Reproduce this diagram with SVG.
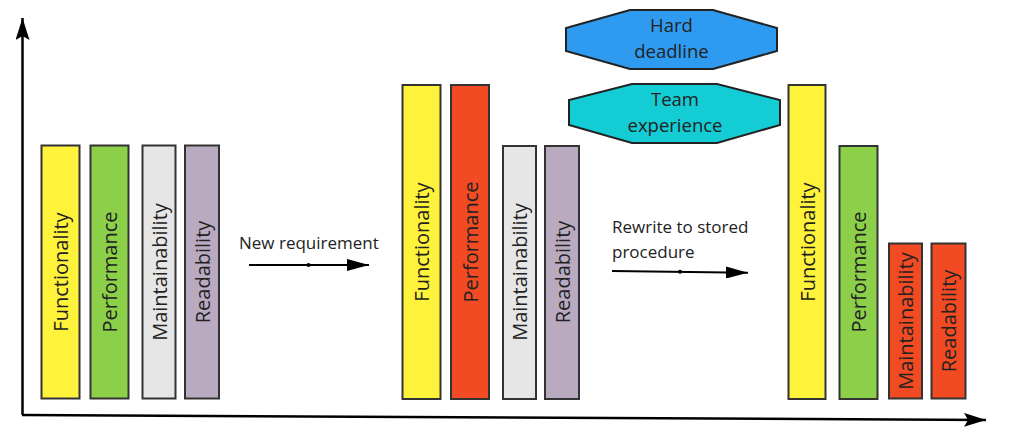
<svg xmlns="http://www.w3.org/2000/svg" width="1024" height="444" viewBox="0 0 1024 444">
<defs>
<marker id="ah" markerWidth="22" markerHeight="14" refX="22" refY="7" orient="auto" markerUnits="userSpaceOnUse"><path d="M0,0 L22,7 L0,14 L4,7 Z" fill="#000"/></marker>
<marker id="ahs" markerWidth="22" markerHeight="12" refX="22" refY="6" orient="auto" markerUnits="userSpaceOnUse"><path d="M0,0 L22,6 L0,12 Z" fill="#000"/></marker>
</defs>
<style>
.bar{stroke:#333;stroke-width:2}
.lbl{font-family:"Open Sans","DejaVu Sans",sans-serif;font-size:20px;fill:#222;text-anchor:middle;dominant-baseline:central}
.txt{font-family:"Open Sans","DejaVu Sans",sans-serif;font-size:17px;fill:#222}
.hx{stroke:#222;stroke-width:2}
.ht{font-family:"Open Sans","DejaVu Sans",sans-serif;font-size:18.5px;fill:#222;text-anchor:middle}
.ax{stroke:#000;stroke-width:2.5;fill:none}
.ar{stroke:#000;stroke-width:2;fill:none}
.yellow{fill:#fff23a}.green{fill:#8cd04a}.grey{fill:#e6e6e6}.purple{fill:#baaac0}.red{fill:#f24a22}
</style>
<g id="connectors">
<path class="ax" d="M22.5,415 L22.5,18" marker-end="url(#ah)"/>
<path class="ax" d="M22,415 L986,420" marker-end="url(#ah)"/>
<path class="ar" d="M249,265 L369,265" marker-end="url(#ahs)"/>
<circle cx="308.5" cy="265" r="2" fill="#000"/>
<path class="ar" d="M612,271 L748,272.7" marker-end="url(#ahs)"/>
<circle cx="680" cy="271.8" r="2" fill="#000"/>
</g>
<g id="label-new-requirement"><text class="txt" x="239" y="249">New requirement</text></g>
<g id="label-rewrite"><text class="txt" x="612" y="233">Rewrite to stored</text><text class="txt" x="612" y="257.5">procedure</text></g>
<g id="s1-functionality"><rect class="bar yellow" x="41.5" y="145.5" width="38" height="253"/><text class="lbl" transform="translate(60.5,272) rotate(-90)">Functionality</text></g>
<g id="s1-performance"><rect class="bar green" x="90.5" y="145.5" width="38" height="253"/><text class="lbl" transform="translate(109.5,272) rotate(-90)">Performance</text></g>
<g id="s1-maintainability"><rect class="bar grey" x="142.5" y="145.5" width="33" height="253"/><text class="lbl" transform="translate(159,272) rotate(-90)">Maintainability</text></g>
<g id="s1-readability"><rect class="bar purple" x="185" y="145.5" width="34" height="253"/><text class="lbl" transform="translate(202,272) rotate(-90)">Readability</text></g>
<g id="s2-functionality"><rect class="bar yellow" x="402.5" y="85" width="38" height="314"/><text class="lbl" transform="translate(421.5,242) rotate(-90)">Functionality</text></g>
<g id="s2-performance"><rect class="bar red" x="451" y="85" width="38" height="314"/><text class="lbl" transform="translate(470,242) rotate(-90)">Performance</text></g>
<g id="s2-maintainability"><rect class="bar grey" x="503" y="146" width="33" height="253"/><text class="lbl" transform="translate(519.5,272) rotate(-90)">Maintainability</text></g>
<g id="s2-readability"><rect class="bar purple" x="545" y="146" width="34" height="253"/><text class="lbl" transform="translate(562,272) rotate(-90)">Readability</text></g>
<g id="s3-functionality"><rect class="bar yellow" x="788.5" y="85" width="37" height="314"/><text class="lbl" transform="translate(807,242) rotate(-90)">Functionality</text></g>
<g id="s3-performance"><rect class="bar green" x="839.5" y="146" width="38" height="253"/><text class="lbl" transform="translate(858.5,272) rotate(-90)">Performance</text></g>
<g id="s3-maintainability"><rect class="bar red" x="889" y="243.5" width="33" height="155"/><text class="lbl" transform="translate(905.5,321) rotate(-90)">Maintainability</text></g>
<g id="s3-readability"><rect class="bar red" x="931.5" y="243.5" width="34" height="155"/><text class="lbl" transform="translate(948.5,321) rotate(-90)">Readability</text></g>
<g id="hard-deadline"><polygon class="hx" fill="#2e9bf0" points="630,10 713,10 777,28 777,51 713,69 630,69 566,51 566,28"/><text class="ht" x="671.5" y="31.5">Hard</text><text class="ht" x="671.5" y="58">deadline</text></g>
<g id="team-experience"><polygon class="hx" fill="#14ccd4" points="632,84 717,84 780,100 780,125 717,143 632,143 569,125 569,100"/><text class="ht" x="675" y="106">Team</text><text class="ht" x="675" y="132">experience</text></g>
</svg>
